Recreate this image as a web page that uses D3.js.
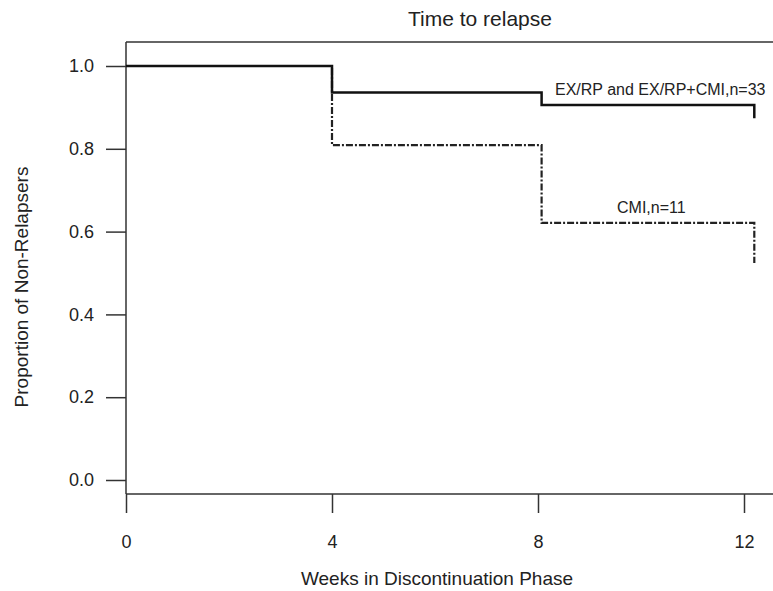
<!DOCTYPE html>
<html>
<head>
<meta charset="utf-8">
<script src="https://cdn.jsdelivr.net/npm/d3@7"></script>
<style>
  body { margin: 0; background: #fff; }
  svg text { font-family: "Liberation Sans", Arial, Helvetica, sans-serif; fill: #222; }
</style>
</head>
<body>
<div id="chart-area"></div>
<script>
// Data: Kaplan-Meier step points (weeks, proportion)
var weeks = [0, 4, 8.07, 12.2];
var combinedSurv = [1.0, 0.936, 0.906, 0.874];
var cmiSurv = [1.0, 0.809, 0.621, 0.524];
var xTicks = [0, 4, 8, 12];
var yTicks = [0, 0.2, 0.4, 0.6, 0.8, 1.0];
var seriesLabels = ["EX/RP and EX/RP+CMI,n=33", "CMI,n=11"];

var width = 773, height = 591;
var frame = { left: 126, top: 42, right: 773, bottom: 494 };

var svg = d3.select("#chart-area")
    .append("svg")
    .attr("width", width)
    .attr("height", height);

var xScale = d3.scaleLinear().domain([0, 12]).range([frame.left, 744]);
var yScale = d3.scaleLinear().domain([0, 1]).range([480, 66]);

// top border
svg.append("line")
    .attr("x1", frame.left).attr("x2", frame.right)
    .attr("y1", frame.top).attr("y2", frame.top)
    .attr("stroke", "#333").attr("stroke-width", 1.5);

// y axis
var yAxis = d3.axisLeft(yScale)
    .tickValues(yTicks)
    .tickSize(20)
    .tickPadding(12)
    .tickFormat(d3.format(".1f"));

var yg = svg.append("g")
    .attr("transform", "translate(" + frame.left + ",0)")
    .call(yAxis);
yg.select(".domain").remove();
yg.append("line")
    .attr("x1", 0).attr("x2", 0).attr("y1", frame.top).attr("y2", frame.bottom)
    .attr("stroke", "#333").attr("stroke-width", 1.5);

// x axis
var xAxis = d3.axisBottom(xScale)
    .tickValues(xTicks)
    .tickSize(19)
    .tickPadding(22);

var xg = svg.append("g")
    .attr("transform", "translate(0," + frame.bottom + ")")
    .call(xAxis);
xg.select(".domain").remove();
xg.append("line")
    .attr("x1", frame.left).attr("x2", frame.right).attr("y1", 0).attr("y2", 0)
    .attr("stroke", "#333").attr("stroke-width", 1.5);

svg.selectAll(".tick line").attr("stroke", "#333").attr("stroke-width", 1.5);
svg.selectAll(".tick text")
    .style("font-size", "18px")
    .attr("fill", "#222");

// step lines
var line = d3.line()
    .x(function(d) { return xScale(d[0]); })
    .y(function(d) { return yScale(d[1]); })
    .curve(d3.curveStepAfter);

svg.append("path")
    .datum(weeks.map(function(w, i) { return [w, cmiSurv[i]]; }))
    .attr("d", line)
    .attr("fill", "none")
    .attr("stroke", "#222")
    .attr("stroke-width", 2.2)
    .attr("stroke-dasharray", "7,2,2,2");

svg.append("path")
    .datum(weeks.map(function(w, i) { return [w, combinedSurv[i]]; }))
    .attr("d", line)
    .attr("fill", "none")
    .attr("stroke", "#111")
    .attr("stroke-width", 2.5);

// series labels
svg.append("text")
    .attr("x", 555).attr("y", 95)
    .style("font-size", "16px")
    .text(seriesLabels[0]);

svg.append("text")
    .attr("x", 617).attr("y", 213)
    .style("font-size", "16px")
    .text(seriesLabels[1]);

// titles
svg.append("text")
    .attr("x", 480).attr("y", 26)
    .attr("text-anchor", "middle")
    .style("font-size", "21px")
    .text("Time to relapse");

svg.append("text")
    .attr("x", 437).attr("y", 585)
    .attr("text-anchor", "middle")
    .style("font-size", "19px")
    .text("Weeks in Discontinuation Phase");

svg.append("text")
    .attr("transform", "translate(28,287) rotate(-90)")
    .attr("text-anchor", "middle")
    .style("font-size", "19px")
    .text("Proportion of Non-Relapsers");
</script>
</body>
</html>
